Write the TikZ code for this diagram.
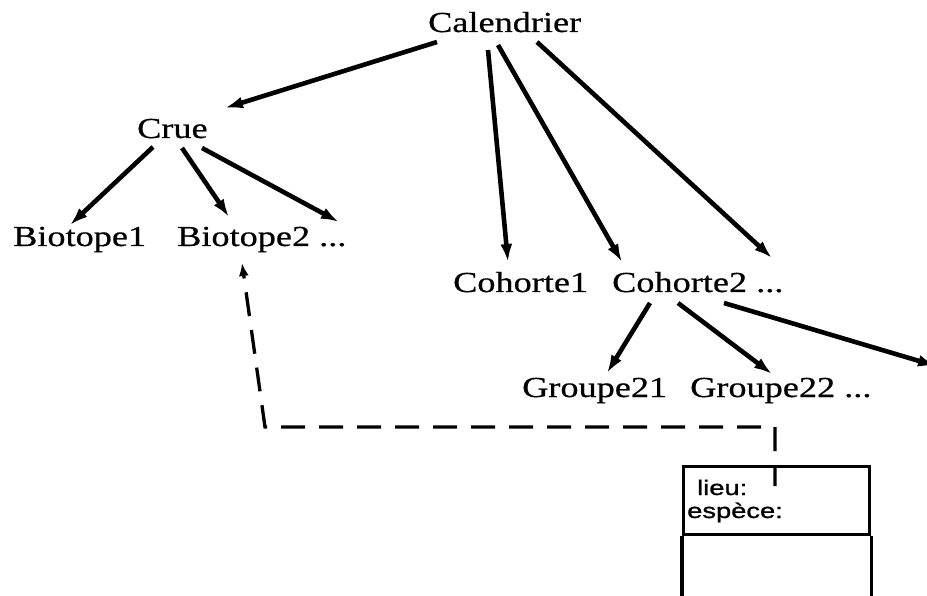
\documentclass[tikz,border=0pt]{standalone}
\usepackage{fontspec}
\usetikzlibrary{arrows.meta,calc}
\newfontfamily\lblfont[FakeStretch=1.25,FakeBold=0.6]{Liberation Serif}
\newfontfamily\attrfont[FakeStretch=1.3,FakeBold=1.2]{Liberation Sans}
\tikzset{
  lbl/.style={anchor=base west, inner sep=0pt, font=\lblfont\fontsize{29}{32}\selectfont},
  attr/.style={anchor=base west, inner sep=0pt, font=\attrfont\fontsize{21}{24}\selectfont},
  link/.style={line width=4.6pt, -{Latex[length=18pt,width=12pt]}},
  ref/.style={line width=3.3pt, dash pattern=on 24pt off 14pt, dash phase=3pt,
              -{Latex[length=13pt,width=10pt]}},
  boxline/.style={line width=3.2pt}
}
\begin{document}
\begin{tikzpicture}[x=1pt,y=-1pt]
\useasboundingbox (0,0) rectangle (927,596);

% labels of the tree
\node[lbl] (cal)  at (428,32)  {Calendrier};
\node[lbl] (crue) at (137,138) {Crue};
\node[lbl] (bio1) at (13,246)  {Biotope1};
\node[lbl] (bio2) at (177,246) {Biotope2 ...};
\node[lbl] (coh1) at (453,292) {Cohorte1};
\node[lbl] (coh2) at (612,292) {Cohorte2 ...};
\node[lbl] (g21)  at (522,397) {Groupe21};
\node[lbl] (g22)  at (690,397) {Groupe22 ...};
\coordinate (offright) at (936,366);

% Calendrier and its children
\draw[link] ($(cal.base west)+(9,10)$)   -- ($(crue.base west)+(88,-30)$);
\draw[link] ($(cal.base west)+(60,18)$)  -- ($(coh1.base west)+(55,-30)$);
\draw[link] ($(cal.base west)+(70,13)$)  -- ($(coh2.base west)+(10,-30)$);
\draw[link] ($(cal.base west)+(109,10)$) -- ($(coh2.base west)+(160,-34)$);

% Crue and its biotopes
\draw[link] ($(crue.base west)+(16,9)$)  -- ($(bio1.base west)+(57,-21)$);
\draw[link] ($(crue.base west)+(45,10)$) -- ($(bio2.base west)+(52,-29)$);
\draw[link] ($(crue.base west)+(65,10)$) -- ($(bio2.base west)+(162,-24)$);

% Cohorte2 and its groups
\draw[link] ($(coh2.base west)+(38,11)$)  -- ($(g21.base west)+(85,-24)$);
\draw[link] ($(coh2.base west)+(66,11)$)  -- ($(g22.base west)+(82,-23)$);
\draw[link] ($(coh2.base west)+(112,11)$) -- (offright);

% class box
\node[draw, boxline, anchor=north west, minimum width=186pt, minimum height=68pt, inner sep=0pt]
  (attrs) at (682,465) {};
\draw[boxline] (attrs.south west) -- ++(0,80) -| (attrs.south east);
\node[attr] (lieu)   at (697,495) {lieu:};
\node[attr] (espece) at (687,518) {espèce:};

% reference from the box to Biotope2
\coordinate (bend1) at (775,427);
\coordinate (bend2) at (265,427);
\draw[ref] (775,486) -- (bend1) -- (bend2) -- ($(bio2.base west)+(65,17)$);
\end{tikzpicture}
\end{document}
